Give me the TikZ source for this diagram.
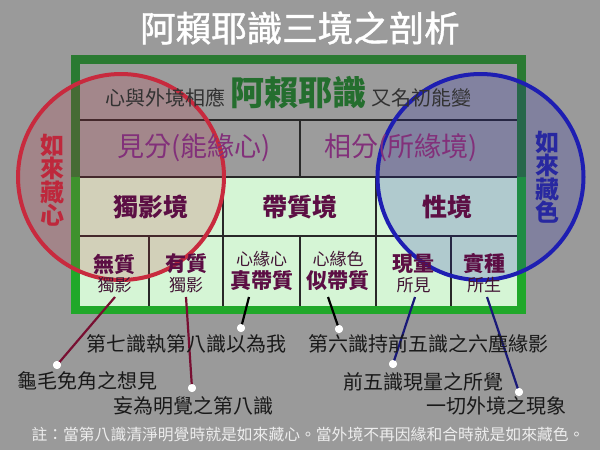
\documentclass[tikz,border=0pt]{standalone}
\usepackage{fontspec}
\setmainfont{Noto Sans CJK TC}
\newfontfamily\titlefont{Noto Sans CJK TC}[FakeBold=1.3]
\definecolor{bggray}{RGB}{154,154,154}
\definecolor{uppercell}{RGB}{156,156,156}
\definecolor{cellgreen}{RGB}{213,245,213}
\definecolor{framedark}{RGB}{42,122,50}
\definecolor{framebright}{RGB}{32,168,42}
\definecolor{gridc}{RGB}{40,40,40}
\definecolor{redc}{RGB}{200,42,62}
\definecolor{bluec}{RGB}{30,30,178}
\definecolor{greentxt}{RGB}{36,110,46}
\definecolor{purpletxt}{RGB}{130,48,122}
\definecolor{maroonb}{RGB}{92,14,68}
\definecolor{maroonr}{RGB}{66,20,52}
\definecolor{headtxt}{RGB}{50,50,50}
\definecolor{labtxt}{RGB}{25,25,25}
\definecolor{redline}{RGB}{120,15,50}
\definecolor{blueline}{RGB}{25,25,120}
\definecolor{redlab}{RGB}{190,40,60}
\definecolor{bluelab}{RGB}{40,40,160}
\tikzset{
  txt/.style={inner sep=0pt, outer sep=0pt},
  gridline/.style={draw=gridc, line width=1.4pt},
  bigcell/.style={txt, font=\bfseries\fontsize{25}{25}\selectfont, text=maroonb},
  boldsub/.style={txt, font=\bfseries\fontsize{21}{21}\selectfont, text=maroonb},
  regsub/.style={txt, font=\fontsize{17}{17}\selectfont, text=maroonr},
  labeltext/.style={txt, font=\fontsize{20}{20}\selectfont, text=labtxt},
  pointer/.style={line width=2.2pt},
  dotmark/.style={circle, fill=white, inner sep=0pt, minimum size=8pt},
  circlelab/.style={txt, align=center, font=\bfseries\fontsize{24}{23.5}\selectfont},
}
\begin{document}
\begin{tikzpicture}[x=1pt,y=-1pt]
\useasboundingbox (0,0) rectangle (600,450);
\fill[bggray] (0,0) rectangle (600,450);

% title
\node[txt, text=white, font=\titlefont\fontsize{35.5}{35.5}\selectfont] (title) at (300,28) {阿賴耶識三境之剖析};

% frame
\fill[framedark] (71,55) rectangle (526,177);
\fill[framebright] (71,177) rectangle (526,314);
\fill[uppercell] (80,64) rectangle (517,177);
\fill[cellgreen] (80,177) rectangle (517,306);

% grid
\draw[gridline] (80,120) -- (517,120);
\draw[gridline] (80,177) -- (517,177);
\draw[gridline] (80,236) -- (517,236);
\draw[gridline] (300,120) -- (300,177);
\draw[gridline] (223,177) -- (223,306);
\draw[gridline] (376,177) -- (376,306);
\draw[gridline] (149,236) -- (149,306);
\draw[gridline] (300,236) -- (300,306);
\draw[gridline] (451,236) -- (451,306);

% circles
\draw[draw=redc, line width=4pt, fill=redc, fill opacity=0.18] (121,177) circle[radius=103];
\draw[draw=bluec, line width=4pt, fill=bluec, fill opacity=0.2] (480.5,177) circle[radius=103];

% circle labels
\node[circlelab, text=redlab] (redlabel) at (52,180) {如\\來\\藏\\心};
\node[circlelab, text=bluelab] (bluelabel) at (547,177) {如\\來\\藏\\色};

% header row
\node[txt, anchor=base east, text=headtxt, font=\fontsize{20}{20}\selectfont] (headl) at (225,105) {心與外境相應};
\node[txt, anchor=base, text=greentxt, font=\bfseries\fontsize{34}{34}\selectfont] (alaya) at (298,105) {阿賴耶識};
\node[txt, anchor=base west, text=headtxt, font=\fontsize{20}{20}\selectfont] (headr) at (371,105) {又名初能變};

% second row
\node[txt, text=purpletxt, font=\fontsize{27}{27}\selectfont] (jian) at (194,148) {見分(能緣心)};
\node[txt, text=purpletxt, font=\fontsize{27}{27}\selectfont] (xiang) at (401,148) {相分(所緣境)};

% third row
\node[bigcell] (duying) at (151,207) {獨影境};
\node[bigcell] (daizhi) at (300,207) {帶質境};
\node[bigcell] (xingjing) at (447,207) {性境};

% bottom row
\node[boldsub] (wuzhi) at (114.5,264) {無質};
\node[regsub] (wuzhis) at (114.5,285) {獨影};
\node[boldsub] (youzhi) at (186,264) {有質};
\node[regsub] (youzhis) at (186,285) {獨影};
\node[regsub] (zhens) at (261.5,259) {心緣心};
\node[boldsub] (zhen) at (261.5,281) {真帶質};
\node[regsub] (sis) at (338,259) {心緣色};
\node[boldsub] (si) at (338,281) {似帶質};
\node[boldsub] (xianl) at (413.5,264) {現量};
\node[regsub] (xianls) at (413.5,285) {所見};
\node[boldsub] (shiz) at (484,264) {實種};
\node[regsub] (shizs) at (484,285) {所生};

% pointer starts
\coordinate (pA) at (115,297);
\coordinate (pB) at (186,297);
\coordinate (p7) at (249,297);
\coordinate (p6) at (328,297);
\coordinate (pC) at (415,297);
\coordinate (pD) at (487,297);

% dots
\node[dotmark] (dA) at (57,365) {};
\node[dotmark] (dB) at (192,388) {};
\node[dotmark] (d7) at (241,328) {};
\node[dotmark] (d6) at (339,329) {};
\node[dotmark] (dC) at (393,364) {};
\node[dotmark] (dD) at (519,392) {};

\draw[pointer, redline] (pA) -- (dA.center);
\draw[pointer, redline] (pB) -- (dB.center);
\draw[pointer, black] (p7) -- (d7.center);
\draw[pointer, black] (p6) -- (d6.center);
\draw[pointer, blueline] (pC) -- (dC.center);
\draw[pointer, blueline] (pD) -- (dD.center);
\node[dotmark] at (dA) {};
\node[dotmark] at (dB) {};
\node[dotmark] at (d7) {};
\node[dotmark] at (d6) {};
\node[dotmark] at (dC) {};
\node[dotmark] at (dD) {};

% labels
\node[labeltext] (lab7) at (186,344) {第七識執第八識以為我};
\node[labeltext] (lab6) at (428.5,344) {第六識持前五識之六塵緣影};
\node[labeltext] (labA) at (87.5,381) {龜毛免角之想見};
\node[labeltext] (labB) at (193.5,406) {妄為明覺之第八識};
\node[labeltext] (labC) at (423.5,382) {前五識現量之所覺};
\node[labeltext] (labD) at (496.5,406) {一切外境之現象};

% note
\node[txt, text=white!93!black, font=\fontsize{15.8}{15.8}\selectfont] (note) at (308,434) {註：當第八識清淨明覺時就是如來藏心。當外境不再因緣和合時就是如來藏色。};
\end{tikzpicture}
\end{document}
